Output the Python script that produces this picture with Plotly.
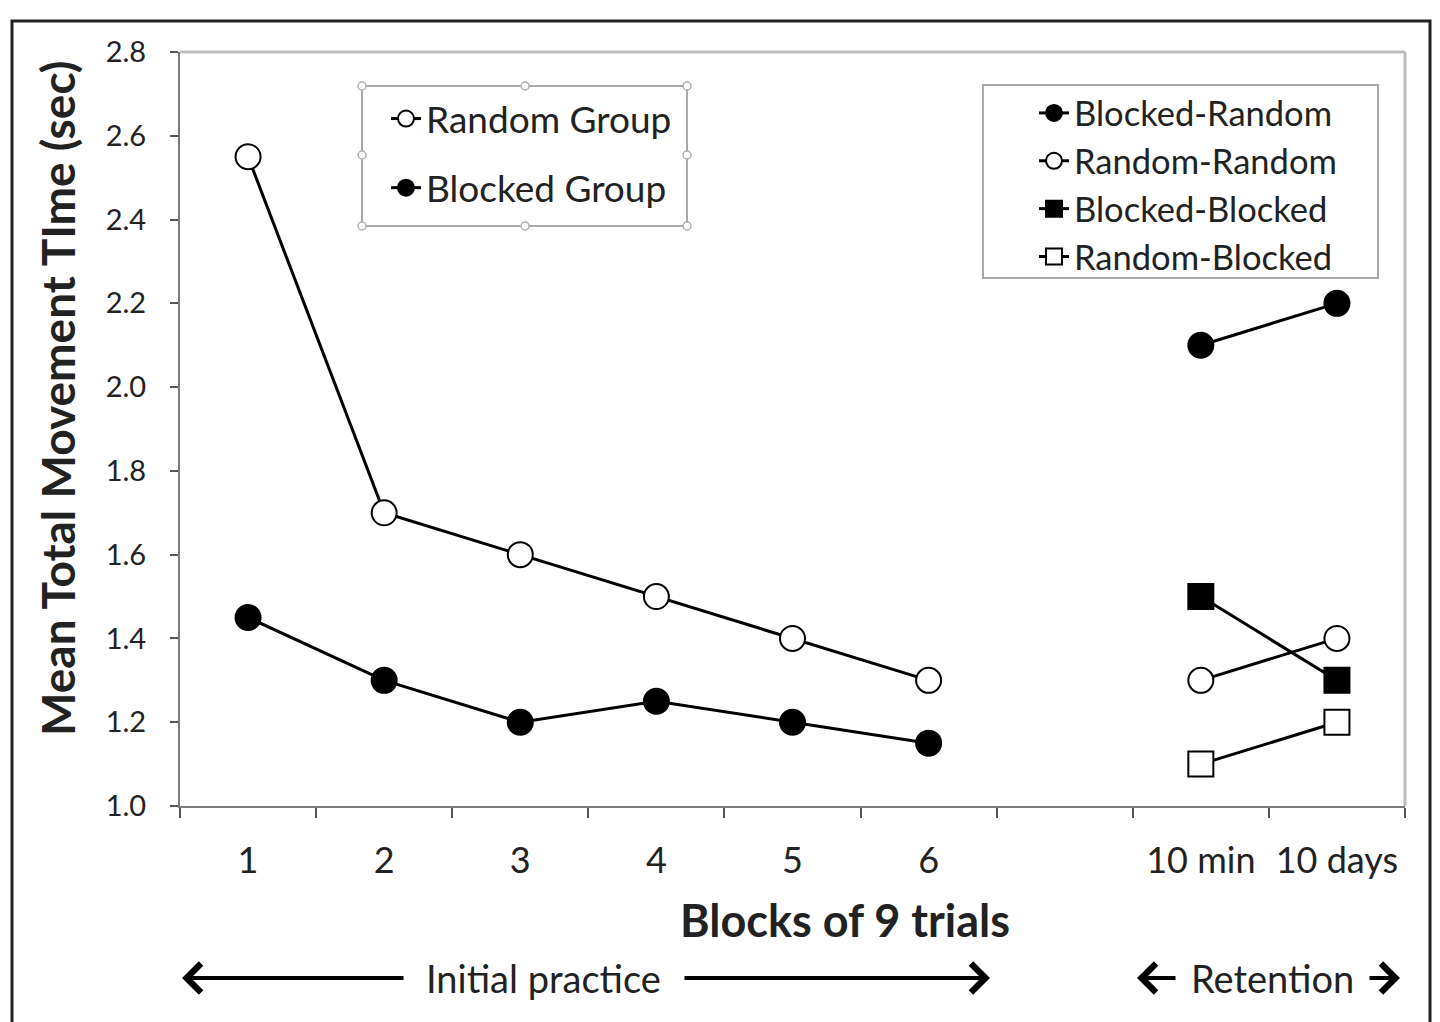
import plotly.graph_objects as go

# data
categories = ['1', '2', '3', '4', '5', '6', ' ', '10 min', '10 days']
practice_blocks = ['1', '2', '3', '4', '5', '6']
retention_tests = ['10 min', '10 days']

random_group = [2.55, 1.70, 1.60, 1.50, 1.40, 1.30]
blocked_group = [1.45, 1.30, 1.20, 1.25, 1.20, 1.15]

blocked_random = [2.10, 2.20]
random_random = [1.30, 1.40]
blocked_blocked = [1.50, 1.30]
random_blocked = [1.10, 1.20]

# page body adds an 8px margin, so the figure is drawn 8px smaller
OFF = 8
W, H = 1440 - OFF, 1022 - OFF
L, R, T, B = 180, 1405, 52, 806   # plot area as seen on the page
FONT = 'Lato'
INK = '#222222'


def px(x):
    return (x - L) / (R - L)


def py(y):
    return (B - y) / (B - T)


def series(name, x, y, symbol, fill, legend):
    return go.Scatter(
        x=x, y=y, name=name, mode='lines+markers',
        line=dict(color='black', width=3),
        marker=dict(symbol=symbol, size=25, color=fill,
                    line=dict(color='black', width=2)),
        legend=legend, legendgroup=name,
    )


fig = go.Figure()
fig.add_trace(series('Random Group', practice_blocks, random_group, 'circle', 'white', 'legend'))
fig.add_trace(series('Blocked Group', practice_blocks, blocked_group, 'circle', 'black', 'legend'))
fig.add_trace(series('Blocked-Random', retention_tests, blocked_random, 'circle', 'black', 'legend2'))
fig.add_trace(series('Random-Random', retention_tests, random_random, 'circle', 'white', 'legend2'))
fig.add_trace(series('Blocked-Blocked', retention_tests, blocked_blocked, 'square', 'black', 'legend2'))
fig.add_trace(series('Random-Blocked', retention_tests, random_blocked, 'square', 'white', 'legend2'))

shapes = []
# outer frame
shapes.append(dict(type='rect', xref='paper', yref='paper',
                   x0=px(12), x1=px(1430), y0=py(1045), y1=py(21),
                   line=dict(color='#222222', width=3)))
# light top / right border of plot area
shapes.append(dict(type='line', xref='paper', yref='paper', x0=0, x1=1, y0=1, y1=1,
                   line=dict(color='#bdbdbd', width=3)))
shapes.append(dict(type='line', xref='paper', yref='paper', x0=1, x1=1, y0=0, y1=1,
                   line=dict(color='#bdbdbd', width=3)))
# legend boxes
shapes.append(dict(type='rect', xref='paper', yref='paper',
                   x0=px(362), x1=px(687), y0=py(226), y1=py(86),
                   line=dict(color='#a8a8a8', width=2)))
shapes.append(dict(type='rect', xref='paper', yref='paper',
                   x0=px(983), x1=px(1378), y0=py(278), y1=py(85),
                   line=dict(color='#a8a8a8', width=2)))
# selection handles on the first legend box
for hx, hy in [(362, 86), (525, 86), (687, 86), (362, 155), (687, 155),
               (362, 226), (525, 226), (687, 226)]:
    shapes.append(dict(type='circle', xref='paper', yref='paper',
                       x0=px(hx - 4), x1=px(hx + 4), y0=py(hy + 4), y1=py(hy - 4),
                       fillcolor='white', line=dict(color='#b0b0b0', width=1.5)))

annotations = [
    dict(text='<b>Mean Total Movement TIme (sec)</b>', xref='paper', yref='paper',
         x=px(58), y=py(399), xanchor='center', yanchor='middle',
         textangle=-90, showarrow=False,
         font=dict(size=46, color=INK, family=FONT)),
    dict(text='<b>Blocks of 9 trials</b>', xref='paper', yref='paper',
         x=px(845), y=py(920), xanchor='center', yanchor='middle', showarrow=False,
         font=dict(size=45, color=INK, family=FONT)),
    dict(text='Initial practice', xref='paper', yref='paper',
         x=px(543), y=py(978), xanchor='center', yanchor='middle', showarrow=False,
         font=dict(size=38, color=INK, family=FONT)),
    dict(text='Retention', xref='paper', yref='paper',
         x=px(1272), y=py(978), xanchor='center', yanchor='middle', showarrow=False,
         font=dict(size=38, color=INK, family=FONT)),
]
# arrows: (tip, tail) in pixels
for tip, tail in [(182, 405), (990, 683), (1137, 1177), (1400, 1368)]:
    annotations.append(dict(text='', xref='paper', yref='paper',
                            x=px(tip), y=py(978), ax=tail - tip, ay=0,
                            showarrow=True, arrowhead=4, arrowsize=1.4,
                            arrowwidth=4, arrowcolor='black'))

fig.update_layout(
    width=W, height=H,
    margin=dict(l=L - OFF, r=W - (R - OFF), t=T - OFF, b=H - (B - OFF)),
    paper_bgcolor='white', plot_bgcolor='white',
    font=dict(family=FONT, color=INK),
    shapes=shapes,
    annotations=annotations,
    legend=dict(x=px(386), y=py(88), xanchor='left', yanchor='top',
                bgcolor='rgba(0,0,0,0)', borderwidth=0,
                font=dict(size=37, family=FONT, color=INK),
                tracegroupgap=18),
    legend2=dict(x=px(1034), y=py(84), xanchor='left', yanchor='top',
                 bgcolor='rgba(0,0,0,0)', borderwidth=0,
                 font=dict(size=34.5, family=FONT, color=INK),
                 tracegroupgap=0),
)

fig.update_xaxes(
    type='category', categoryorder='array', categoryarray=categories,
    range=[-0.5, 8.5], tickson='boundaries',
    showline=True, linecolor='#7a7a7a', linewidth=2,
    ticks='outside', ticklen=10, tickwidth=2, tickcolor='#555555',
    ticklabelstandoff=22,
    tickfont=dict(size=36, family=FONT, color=INK),
    showgrid=False, zeroline=False, fixedrange=True,
)
fig.update_yaxes(
    range=[1.0, 2.8], dtick=0.2, tick0=1.0, tickformat='.1f',
    showline=True, linecolor='#7a7a7a', linewidth=2,
    ticks='outside', ticklen=8, tickwidth=2, tickcolor='#555555',
    ticklabelstandoff=18,
    tickfont=dict(size=29, family=FONT, color=INK),
    showgrid=False, zeroline=False, fixedrange=True,
)

fig.write_html('out.html')
